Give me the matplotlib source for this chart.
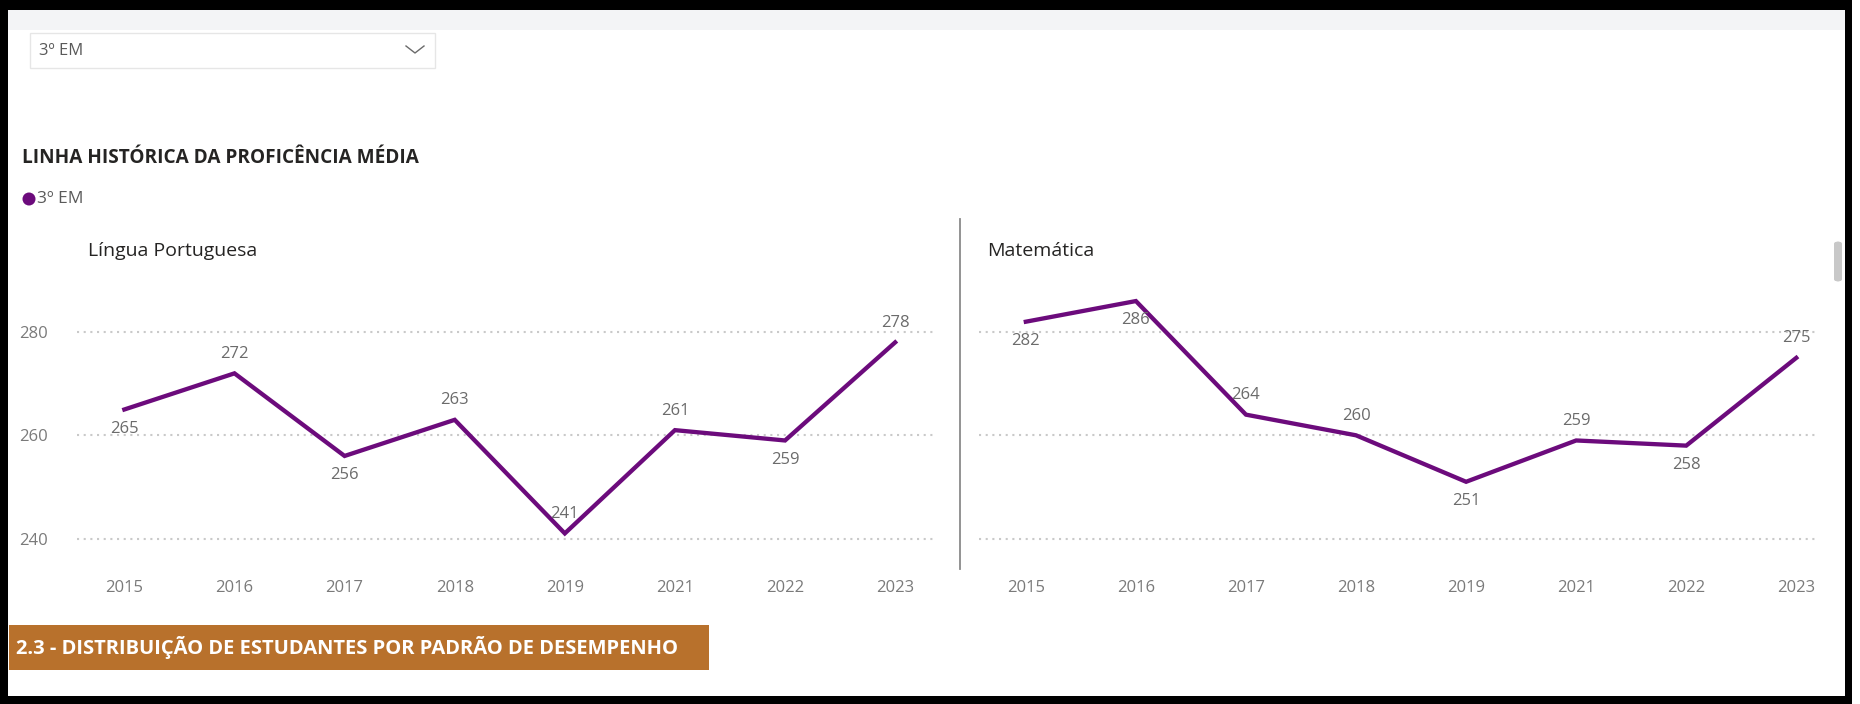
import matplotlib

matplotlib.use("Agg")
import matplotlib.patches as mpatches
import matplotlib.pyplot as plt
from matplotlib.lines import Line2D

# ---- data ------------------------------------------------------------------
years = ["2015", "2016", "2017", "2018", "2019", "2021", "2022", "2023"]
portugues = [265, 272, 256, 263, 241, 261, 259, 278]
matematica = [282, 286, 264, 260, 251, 259, 258, 275]
y_ticks = [240, 260, 280]

# ---- palette ---------------------------------------------------------------
PURPLE = "#6c0b7c"
GRID = "#c9c9c9"
TICK = "#7a7a7a"
LABEL = "#6b6b6b"
INK = "#252423"
BANNER = "#b8712c"

plt.rcParams["font.family"] = ["Open Sans", "DejaVu Sans"]

W, H = 1860, 704
fig = plt.figure(figsize=(W / 100, H / 100), dpi=100)
fig.patch.set_facecolor("white")


def fx(px):
    return px / W


def fy(py):
    # pixel rows are counted from the top
    return 1 - py / H


def rect(x0, y0, x1, y1, **kw):
    fig.add_artist(mpatches.Rectangle((fx(x0), fy(y1)), fx(x1 - x0), (y1 - y0) / H,
                                      transform=fig.transFigure, **kw))


# top band + dropdown
rect(8, 10, 1845, 30, facecolor="#f3f4f6", edgecolor="none")
rect(30, 33, 435, 68, facecolor="white", edgecolor="#e6e6e6", linewidth=1.0)
fig.text(fx(39), fy(51), "3º EM", fontsize=12, color="#5a5a5a", ha="left", va="center")
fig.add_artist(Line2D([fx(406), fx(415), fx(424)], [fy(46), fy(53), fy(46)],
                      transform=fig.transFigure, color="#6a6a6a", lw=1.0))

# section title + legend
fig.text(fx(22), fy(158), "LINHA HISTÓRICA DA PROFICÊNCIA MÉDIA", fontsize=13.7,
         fontweight="bold", color=INK, ha="left", va="center")
fig.add_artist(mpatches.Ellipse((fx(29), fy(199)), fx(13), 13 / H, transform=fig.transFigure,
                                facecolor=PURPLE, edgecolor="none"))
fig.text(fx(37), fy(199), "3º EM", fontsize=12.5, color="#5a5a5a", ha="left", va="center")

# separator between the two panels
fig.add_artist(Line2D([fx(960), fx(960)], [fy(219), fy(569)], transform=fig.transFigure,
                      color="#8a8a8a", lw=1.3))

# ---- panels ----------------------------------------------------------------
ax_bottom, ax_height = fy(564.4), (564.4 - 280.4) / H
ax_lp = fig.add_axes((fx(77), ax_bottom, fx(937 - 77), ax_height))
ax_mt = fig.add_axes((fx(978.5), ax_bottom, fx(1815 - 978.5), ax_height))

# which side of the point each value label sits on
pos_lp = ["below", "above", "below", "above", "above", "above", "below", "above"]
pos_mt = ["below", "below", "above", "above", "below", "above", "below", "above"]

xs = list(range(len(years)))
for ax, vals, pos in ((ax_lp, portugues, pos_lp), (ax_mt, matematica, pos_mt)):
    ax.set_facecolor("none")
    ax.set_xlim(-0.43, 7.38 if ax is ax_lp else 7.17)
    ax.set_ylim(235, 290)
    for s in ax.spines.values():
        s.set_visible(False)
    for yt in y_ticks:
        ax.axhline(yt, color=GRID, lw=1.5, ls=(0, (1, 2.2)), zorder=1)
    ax.plot(xs, vals, color=PURPLE, lw=3.1, solid_joinstyle="miter", zorder=3)
    for x, v, p in zip(xs, vals, pos):
        dy = 14 if p == "above" else -14
        ax.annotate(str(v), (x, v), xytext=(0, dy), textcoords="offset points",
                    ha="center", va="center", fontsize=12, color=LABEL, zorder=4)
    ax.set_xticks(xs)
    ax.set_xticklabels(years, fontsize=12, color=TICK)
    ax.tick_params(axis="x", length=0, pad=11)
    ax.set_yticks(y_ticks)

ax_lp.set_yticklabels([str(t) for t in y_ticks], fontsize=12, color=TICK, ha="left")
ax_lp.tick_params(axis="y", length=0, pad=42)
ax_mt.set_yticklabels([])
ax_mt.tick_params(axis="y", length=0)

fig.text(fx(88), fy(251), "Língua Portuguesa", fontsize=14, color=INK, ha="left", va="center")
fig.text(fx(987), fy(251), "Matemática", fontsize=14, color=INK, ha="left", va="center")

# scrollbar thumb
fig.add_artist(mpatches.FancyBboxPatch((fx(1834), fy(282)), fx(8), 41 / H,
                                       boxstyle="round,pad=0,rounding_size=0.004",
                                       transform=fig.transFigure, facecolor="#c8c8c8",
                                       edgecolor="none"))

# orange section banner
rect(9, 625, 709, 670, facecolor=BANNER, edgecolor="none")
fig.text(fx(16), fy(647.5), "2.3 - DISTRIBUIÇÃO DE ESTUDANTES POR PADRÃO DE DESEMPENHO",
         fontsize=14.5, fontweight="bold", color="white", ha="left", va="center")

# thick outer frame
rect(0, 0, 1852, 10, facecolor="black", edgecolor="none")
rect(0, 0, 8, 704, facecolor="black", edgecolor="none")
rect(1845, 0, 1852, 704, facecolor="black", edgecolor="none")
rect(0, 696, 1852, 704, facecolor="black", edgecolor="none")

fig.savefig("out.png", dpi=100, facecolor="white")
